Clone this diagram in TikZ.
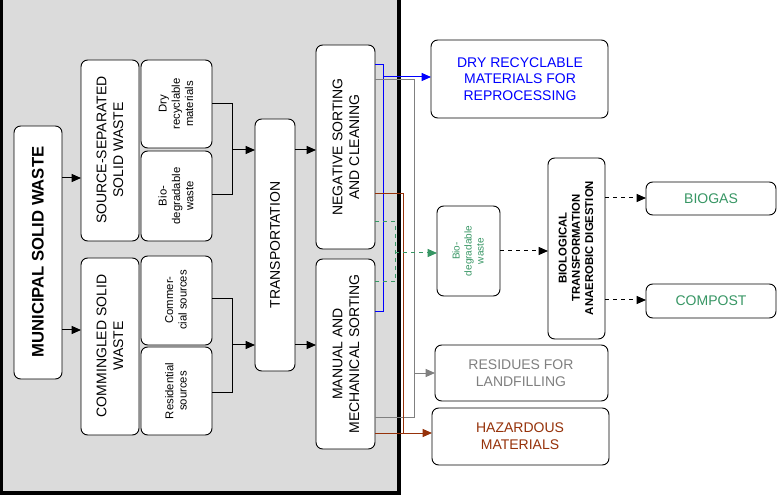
\documentclass[tikz,border=0pt]{standalone}
\usepackage{fontspec}
\setmainfont{Liberation Sans}
\usetikzlibrary{arrows.meta}
\definecolor{mygreen}{RGB}{55,150,100}
\definecolor{mybrown}{RGB}{150,50,10}
\begin{document}
\begin{tikzpicture}[x=0.75pt,y=-0.75pt,
 bx/.style={draw,fill=white,rounded corners=5pt,line width=0.7pt},
 lbl/.style={rotate=90,align=center,inner sep=0pt},
 big/.style={font=\fontsize{10.5}{12.5}\selectfont},
 sm/.style={font=\fontsize{8.5}{10}\selectfont},
 ln/.style={line width=0.75pt},
 ar/.style={-{Triangle[length=7pt,width=6pt]},line width=0.75pt}]
\useasboundingbox (0,0) rectangle (782,495);
\fill[white] (0,0) rectangle (782,495);
\draw[fill=black!14,line width=2.5pt] (1,-2) rectangle (399,493);
\draw[bx] (14,126) rectangle (62,379); \node[lbl,font=\bfseries\fontsize{12.5}{14}\selectfont] (msw) at (38,252) {MUNICIPAL SOLID WASTE};
\draw[bx] (81,60) rectangle (139,241); \node[lbl,big] (ss) at (110,150) {SOURCE-SEPARATED\\SOLID WASTE};
\draw[bx] (81,258) rectangle (139,435); \node[lbl,big] (cm) at (110,346) {COMMINGLED SOLID\\WASTE};
\draw[bx] (141,60) rectangle (212,148); \node[lbl,sm] (dry) at (176,104) {Dry\\recyclable\\materials};
\draw[bx] (141,151) rectangle (212,241); \node[lbl,sm] (bio) at (176,196) {Bio-\\degradable\\waste};
\draw[bx] (141,256) rectangle (212,345); \node[lbl,sm] (com) at (176,300) {Commer-\\cial sources};
\draw[bx] (141,347) rectangle (212,435); \node[lbl,sm] (res) at (176,391) {Residential\\sources};
\draw[bx] (255,119) rectangle (295,371); \node[lbl,big] (tr) at (275,245) {TRANSPORTATION};
\draw[bx] (316,45) rectangle (375,249); \node[lbl,big] (neg) at (346,147) {NEGATIVE SORTING\\AND CLEANING};
\draw[bx] (316,259) rectangle (375,449); \node[lbl,big] (man) at (346,354) {MANUAL AND\\MECHANICAL SORTING};
\draw[bx] (431,40) rectangle (608,118); \node[align=center,text=blue,big] (dryo) at (520,79) {DRY RECYCLABLE\\MATERIALS FOR\\REPROCESSING};
\draw[bx] (437,206) rectangle (500,296); \node[lbl,text=mygreen,font=\fontsize{7.5}{9}\selectfont] (bioo) at (468,251) {Bio-\\degradable\\waste};
\draw[bx] (548,158) rectangle (605,339); \node[lbl,font=\bfseries\fontsize{8.5}{10}\selectfont] (biol) at (576,248) {BIOLOGICAL\\TRANSFORMATION\\ANAEROBIC DIGESTION};
\draw[bx] (646,182) rectangle (776,215); \node[text=mygreen,big] (gas) at (711,199) {BIOGAS};
\draw[bx] (646,284) rectangle (776,318); \node[text=mygreen,big] (cmp) at (711,301) {COMPOST};
\draw[bx] (435,345) rectangle (608,401); \node[align=center,text=gray,big] (resi) at (521,373) {RESIDUES FOR\\LANDFILLING};
\draw[bx] (432,408) rectangle (609,465); \node[align=center,text=mybrown,big] (haz) at (520,436) {HAZARDOUS\\MATERIALS};
% connectors
\draw[ar] (62,178) -- (81,178);
\draw[ar] (62,330) -- (81,330);
\draw[ln] (212,104) -- (232,104) -- (232,195) -- (212,195);
\draw[ar] (232,150) -- (255,150);
\draw[ln] (212,299) -- (232,299) -- (232,392) -- (212,392);
\draw[ar] (232,345) -- (255,345);
\draw[ar] (295,150) -- (316,150);
\draw[ar] (295,345) -- (316,345);
\draw[blue,ln] (375,65) -- (383,65) -- (383,312) -- (375,312);
\draw[ar,blue] (383,77) -- (431,77);
\draw[gray,ln] (375,80) -- (414,80) -- (414,417) -- (375,417);
\draw[ar,gray] (414,373) -- (435,373);
\draw[mybrown,ln] (375,194) -- (403,194) -- (403,433) -- (375,433);
\draw[ar,mybrown] (403,433) -- (432,433);
\draw[dashed,mygreen,ln] (375,222) -- (395,222) -- (395,282) -- (375,282);
\draw[ar,dashed,mygreen] (395,253) -- (437,253);
\draw[ar,dashed] (500,251) -- (548,251);
\draw[ar,dashed] (605,198) -- (646,198);
\draw[ar,dashed] (605,300) -- (646,300);
\end{tikzpicture}
\end{document}
